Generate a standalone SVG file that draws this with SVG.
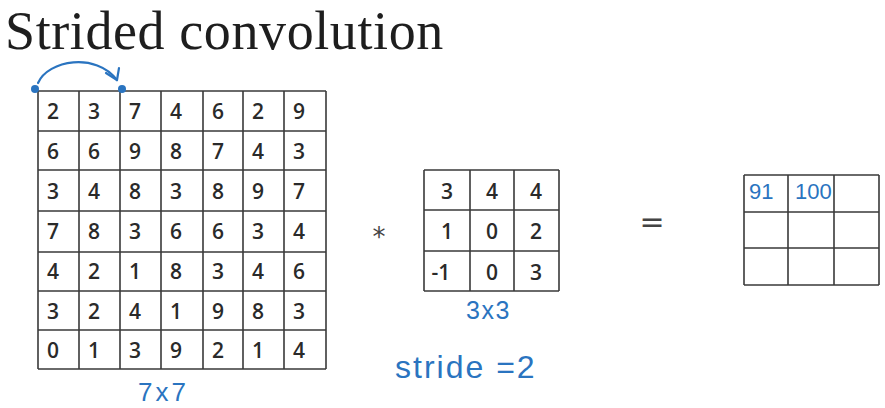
<svg xmlns="http://www.w3.org/2000/svg" width="885" height="408" viewBox="0 0 885 408">
<style>
.grid{fill:none;stroke:#3a3a3a;stroke-width:1.6}
.num{font-family:"Open Sans","DejaVu Sans",sans-serif;font-size:21px;font-weight:600;fill:#2a2a2a}
.fnum{font-family:"Open Sans","DejaVu Sans",sans-serif;font-size:21px;font-weight:600;fill:#2a2a2a;text-anchor:middle}
.hand{font-family:"Liberation Sans",sans-serif;fill:#2a74c0}
.ink{fill:none;stroke:#2a74c0;stroke-width:2.2;stroke-linecap:round;stroke-linejoin:round}
.title{font-family:"Liberation Serif",serif;font-size:54px;letter-spacing:0.6px;fill:#1e1e1e}
.op{font-family:"DejaVu Sans",sans-serif;fill:#444}
</style>
<rect width="885" height="408" fill="#ffffff"/>
<text class="title" x="5" y="49">Strided convolution</text>

<g id="input">
<path class="grid" d="M38,91H326M38,131H326M38,170H326M38,211H326M38,252H326M38,291H326M38,330H326M38,369H326M38,91V369M79,91V369M120,91V369M161,91V369M203,91V369M243,91V369M284,91V369M326,91V369"/>
<g class="num">
<text y="119"><tspan x="47">2</tspan><tspan x="88">3</tspan><tspan x="129">7</tspan><tspan x="170">4</tspan><tspan x="212">6</tspan><tspan x="252">2</tspan><tspan x="293">9</tspan></text>
<text y="159"><tspan x="47">6</tspan><tspan x="88">6</tspan><tspan x="129">9</tspan><tspan x="170">8</tspan><tspan x="212">7</tspan><tspan x="252">4</tspan><tspan x="293">3</tspan></text>
<text y="199"><tspan x="47">3</tspan><tspan x="88">4</tspan><tspan x="129">8</tspan><tspan x="170">3</tspan><tspan x="212">8</tspan><tspan x="252">9</tspan><tspan x="293">7</tspan></text>
<text y="239"><tspan x="47">7</tspan><tspan x="88">8</tspan><tspan x="129">3</tspan><tspan x="170">6</tspan><tspan x="212">6</tspan><tspan x="252">3</tspan><tspan x="293">4</tspan></text>
<text y="279"><tspan x="47">4</tspan><tspan x="88">2</tspan><tspan x="129">1</tspan><tspan x="170">8</tspan><tspan x="212">3</tspan><tspan x="252">4</tspan><tspan x="293">6</tspan></text>
<text y="319"><tspan x="47">3</tspan><tspan x="88">2</tspan><tspan x="129">4</tspan><tspan x="170">1</tspan><tspan x="212">9</tspan><tspan x="252">8</tspan><tspan x="293">3</tspan></text>
<text y="358"><tspan x="47">0</tspan><tspan x="88">1</tspan><tspan x="129">3</tspan><tspan x="170">9</tspan><tspan x="212">2</tspan><tspan x="252">1</tspan><tspan x="293">4</tspan></text>
</g>
<text class="hand" x="138" y="401" font-size="26" letter-spacing="3">7x7</text>
</g>

<g id="stride-arrow">
<path class="ink" d="M38,83 C48,60 96,52 117,80"/>
<path class="ink" d="M106,73 L117,80 L119,68"/>
<circle cx="35" cy="89" r="4" fill="#2a74c0"/>
<circle cx="122" cy="89" r="4" fill="#2a74c0"/>
</g>

<text id="op-star" class="op" x="379" y="246" font-size="26" text-anchor="middle">*</text>

<g id="filter">
<path class="grid" d="M424,170H559M424,210H559M424,251H559M424,291H559M424,170V291M470,170V291M514,170V291M559,170V291"/>
<g class="fnum">
<text y="199"><tspan x="447">3</tspan><tspan x="492">4</tspan><tspan x="536">4</tspan></text>
<text y="239"><tspan x="447">1</tspan><tspan x="492">0</tspan><tspan x="536">2</tspan></text>
<text y="280"><tspan x="441">-1</tspan><tspan x="492">0</tspan><tspan x="536">3</tspan></text>
</g>
<text class="hand" x="466" y="319" font-size="25" letter-spacing="1.5">3x3</text>
</g>

<text id="stride-label" class="hand" x="395" y="378" font-size="32" letter-spacing="2">stride =2</text>

<text id="op-eq" class="op" x="652" y="232" font-size="30" text-anchor="middle">=</text>

<g id="output">
<path class="grid" d="M744,175H879M744,212H879M744,248H879M744,285H879M744,175V285M788,175V285M834,175V285M879,175V285"/>
<text class="hand" x="749" y="199" font-size="22">91</text>
<text class="hand" x="795" y="199" font-size="22">100</text>
</g>
</svg>
